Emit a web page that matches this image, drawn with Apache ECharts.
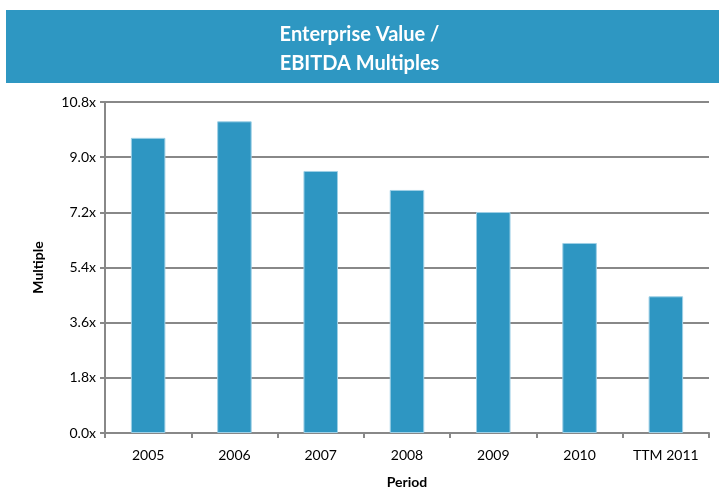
<!DOCTYPE html>
<html>
<head>
<meta charset="utf-8">
<script src="https://cdn.jsdelivr.net/npm/echarts@6/dist/echarts.min.js"></script>
<style>
  html, body { margin: 0; padding: 0; background: #fff; }
  #chart { width: 719px; height: 487px; }
</style>
</head>
<body>
<div id="chart"></div>
<script>
var periods = ['2005', '2006', '2007', '2008', '2009', '2010', 'TTM 2011'];
var multiples = [9.63, 10.17, 8.55, 7.93, 7.21, 6.2, 4.46];
var yTicks = [0, 1.8, 3.6, 5.4, 7.2, 9.0, 10.8];

var font = 'Lato, "Open Sans", sans-serif';
var draw = echarts.init(document.getElementById('chart'));
draw.setOption({
    animation: false,
    title: {
        text: 'Enterprise Value /\nEBITDA Multiples',
        left: 'center',
        top: 15,
        textStyle: { color: '#fff', fontSize: 20, fontWeight: 'bold', fontFamily: font, lineHeight: 29 }
    },
    graphic: [
        { type: 'rect', z: -1, shape: { x: 6, y: 10, width: 713, height: 73 }, style: { fill: '#2E97C2' } }
    ],
    grid: { left: 105, right: 10, top: 102, bottom: 54, containLabel: false, outerBoundsMode: 'none' },
    xAxis: {
        type: 'category',
        data: periods,
        name: 'Period',
        nameLocation: 'middle',
        nameGap: 42,
        nameTextStyle: { fontWeight: 'bold', fontSize: 14, color: '#000', fontFamily: font },
        axisLine: { lineStyle: { color: '#888', width: 2 } },
        axisTick: { show: true, length: 5, lineStyle: { color: '#888', width: 2 } },
        axisLabel: { color: '#000', fontSize: 14, fontFamily: font, margin: 15 }
    },
    yAxis: {
        type: 'value',
        min: 0,
        max: yTicks[yTicks.length - 1],
        interval: 1.8,
        name: 'Multiple',
        nameLocation: 'middle',
        nameGap: 60,
        nameTextStyle: { fontWeight: 'bold', fontSize: 14, color: '#000', fontFamily: font },
        axisLine: { show: true, lineStyle: { color: '#888', width: 2 } },
        axisTick: { show: true, length: 5, lineStyle: { color: '#888', width: 2 } },
        axisLabel: { color: '#000', fontSize: 14, fontFamily: font, margin: 9,
            formatter: function (v) { return v.toFixed(1) + 'x'; } },
        splitLine: { lineStyle: { color: '#888', width: 2 } }
    },
    series: [{
        type: 'bar',
        data: multiples,
        barWidth: '40%',
        itemStyle: { color: '#2E96C2', borderColor: '#9FD0E6', borderWidth: 1 }
    }]
});
</script>
</body>
</html>
